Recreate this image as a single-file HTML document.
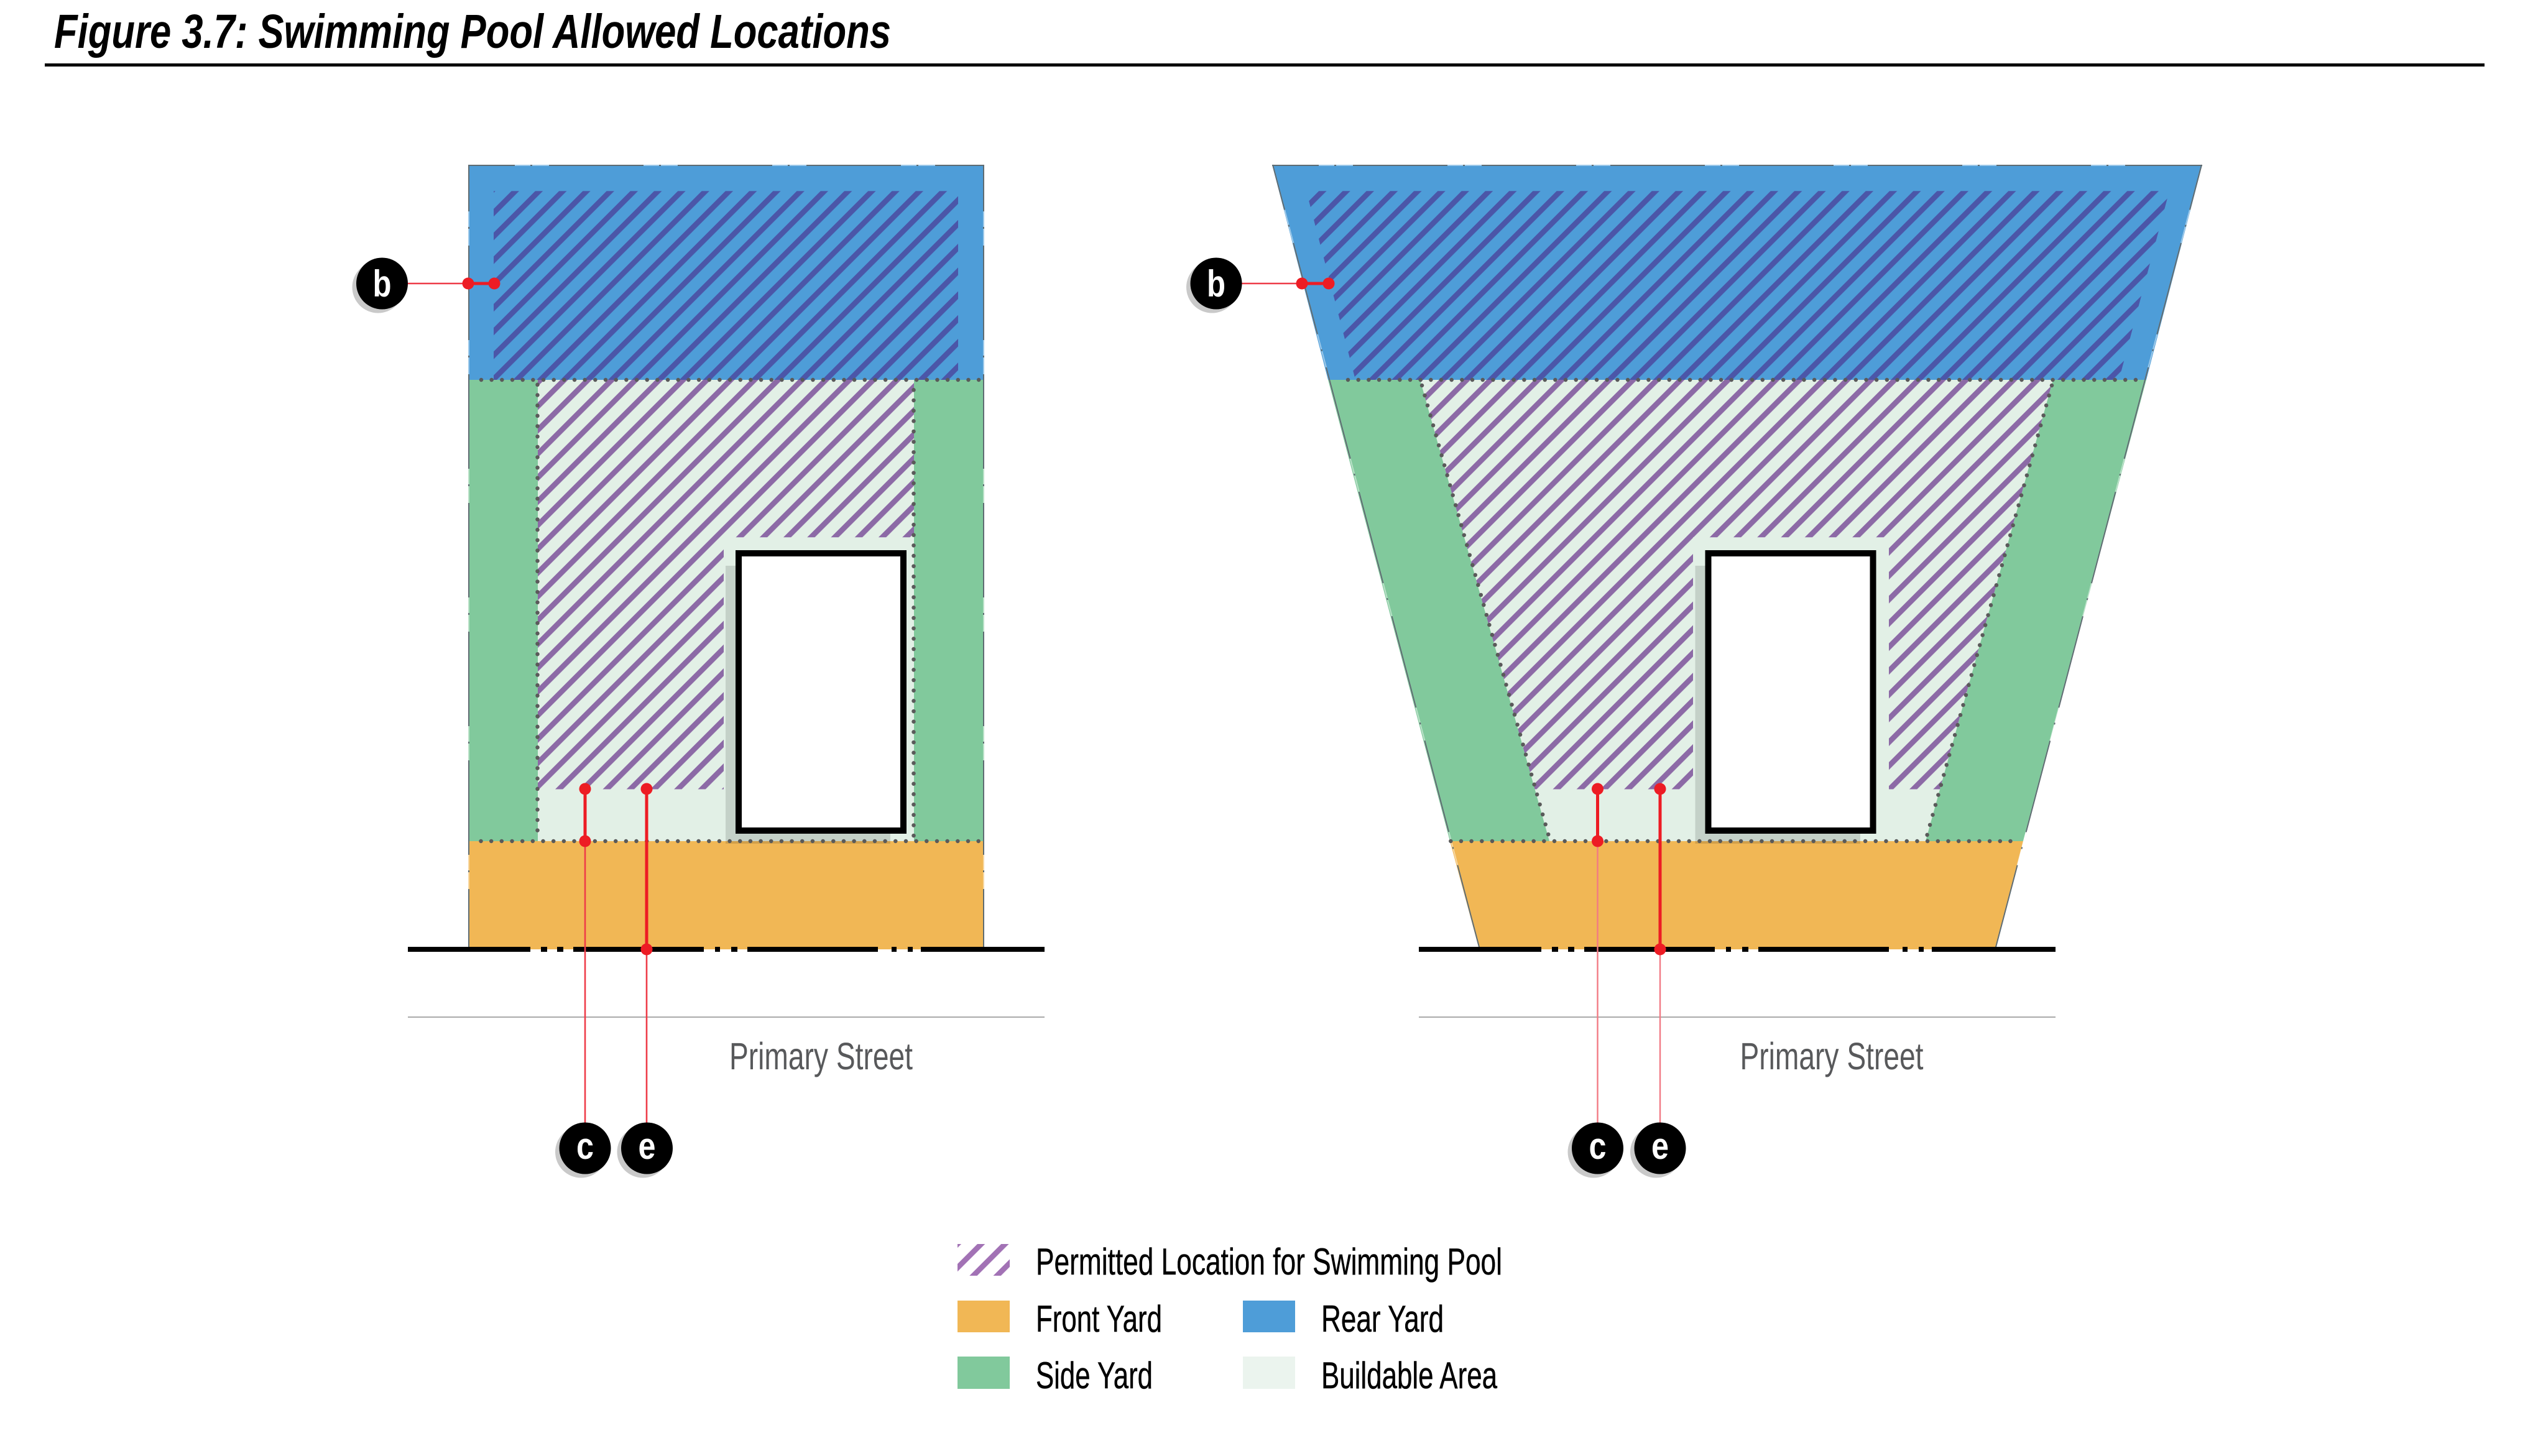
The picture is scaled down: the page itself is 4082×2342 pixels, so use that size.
<!DOCTYPE html>
<html lang="en">
<head>
<meta charset="utf-8">
<title>Figure 3.7: Swimming Pool Allowed Locations</title>
<style>
html,body{margin:0;padding:0;background:#fff;width:4082px;height:2342px;overflow:hidden}
svg{display:block}
text{font-family:"Liberation Sans",sans-serif}
.pale{fill:none;stroke:#fff;stroke-width:2;opacity:.45}
.edge{fill:none;stroke:#5f6c72;stroke-width:2;stroke-dasharray:152 25 3 27;stroke-dashoffset:77}
.dot{fill:none;stroke:#5a5a5a;stroke-width:6.5;stroke-linecap:round;stroke-dasharray:0 16.67}
.st{fill:#000}
.th{stroke:#ed1c24;stroke-width:5;fill:none}
.tn{stroke:#ee3c48;stroke-width:2.6;fill:none}
.tn2{stroke:#f27a84;stroke-width:2.4;fill:none}
.rd{fill:#ed1c24}
.lb{font-size:61px;fill:#58595b}
.lg{font-size:60px;fill:#000;stroke:#000;stroke-width:.5}
.bl{font-size:60px;font-weight:bold;fill:#fff;text-anchor:middle}
</style>
</head>
<body>
<svg xmlns="http://www.w3.org/2000/svg" width="4082" height="2342" viewBox="0 0 4082 2342">
<defs>
<pattern id="hb1" patternUnits="userSpaceOnUse" width="60" height="27.04" patternTransform="rotate(-45) translate(0,799)"><rect width="60" height="8.7" fill="#4b56a8"/></pattern>
<pattern id="hp1" patternUnits="userSpaceOnUse" width="60" height="27.04" patternTransform="rotate(-45) translate(0,799)"><rect width="60" height="8.7" fill="#8c6aa6"/></pattern>
<pattern id="hb2" patternUnits="userSpaceOnUse" width="60" height="27.04" patternTransform="rotate(-45) translate(0,1717.2)"><rect width="60" height="8.7" fill="#4b56a8"/></pattern>
<pattern id="hp2" patternUnits="userSpaceOnUse" width="60" height="27.04" patternTransform="rotate(-45) translate(0,1717.2)"><rect width="60" height="8.7" fill="#8c6aa6"/></pattern>
<pattern id="hl" patternUnits="userSpaceOnUse" width="60" height="27.04" patternTransform="rotate(-45) translate(0,2526.5)"><rect width="60" height="8.7" fill="#a272b5"/></pattern>
</defs>
<rect width="4082" height="2342" fill="#fff"/>

<!-- Title -->
<text x="87" y="77" font-size="77" font-weight="bold" font-style="italic" fill="#000" textLength="1346" lengthAdjust="spacingAndGlyphs">Figure 3.7: Swimming Pool Allowed Locations</text>
<rect x="72" y="102" width="3924" height="5" fill="#000"/>

<!-- LEFT DIAGRAM -->
<rect x="753" y="265" width="830" height="346" fill="#4e9dd8"/>
<rect x="753" y="611" width="830" height="742" fill="#81c99c"/>
<rect x="865" y="611" width="605" height="742" fill="#e2f0e6"/>
<rect x="753" y="1353" width="830" height="174" fill="#f1b755"/>
<rect x="794" y="307.3" width="747" height="303.7" fill="url(#hb1)"/>
<polygon points="865,611 1470,611 1470,864.3 1164,864.3 1164,1269.5 865,1269.5" fill="url(#hp1)"/>
<rect x="1167" y="910" width="265" height="447" fill="#000" opacity=".13"/>
<rect x="1188" y="890" width="265" height="446" fill="#fff" stroke="#000" stroke-width="10"/>
<path class="pale" d="M753 266H1583M754 265V1527M1582 265V1527"/>
<path class="edge" d="M753 266H1583"/>
<path class="edge" d="M754 265V1527"/>
<path class="edge" d="M1582 265V1527"/>
<path class="dot" d="M774 611H1583"/>
<path class="dot" d="M773.5 1353H1583"/>
<path class="dot" d="M864.5 618.8V1340"/>
<path class="dot" d="M1469.5 627.3V1345"/>
<g class="st">
<rect x="656" y="1523" width="197" height="8"/><rect x="870" y="1523" width="10" height="8"/><rect x="896" y="1523" width="10" height="8"/>
<rect x="922" y="1523" width="210" height="8"/><rect x="1150" y="1523" width="8" height="8"/><rect x="1176" y="1523" width="10" height="8"/>
<rect x="1202" y="1523" width="210" height="8"/><rect x="1434" y="1523" width="8" height="8"/><rect x="1460" y="1523" width="8" height="8"/>
<rect x="1481" y="1523" width="199" height="8"/>
</g>
<rect x="656" y="1635" width="1024" height="2" fill="#aaa"/>
<text class="lb" x="1173" y="1720" textLength="295" lengthAdjust="spacingAndGlyphs">Primary Street</text>
<!-- callouts left -->
<path class="tn" d="M656 456H753"/>
<path class="th" d="M753 456H795"/>
<circle class="rd" cx="753" cy="456" r="9.5"/><circle class="rd" cx="795" cy="456" r="9.5"/>
<path class="th" d="M941 1269V1353"/>
<path class="tn" d="M941 1353V1806"/>
<path class="th" d="M1040 1269V1527"/>
<path class="tn" d="M1040 1527V1806"/>
<circle class="rd" cx="941" cy="1269" r="9.5"/><circle class="rd" cx="941" cy="1353" r="9.5"/>
<circle class="rd" cx="1040" cy="1269" r="9.5"/><circle class="rd" cx="1040" cy="1527" r="9.5"/>
<circle cx="608" cy="462" r="41.5" fill="#c9c9c9"/><circle cx="614.5" cy="456" r="41.5" fill="#000"/>
<text class="bl" x="614.5" y="477" textLength="30" lengthAdjust="spacingAndGlyphs">b</text>
<circle cx="934.5" cy="1853" r="41.5" fill="#c9c9c9"/><circle cx="941" cy="1847" r="41.5" fill="#000"/>
<text class="bl" x="941" y="1864" textLength="28" lengthAdjust="spacingAndGlyphs">c</text>
<circle cx="1034" cy="1853" r="41.5" fill="#c9c9c9"/><circle cx="1040.5" cy="1847" r="41.5" fill="#000"/>
<text class="bl" x="1040.5" y="1864" textLength="28" lengthAdjust="spacingAndGlyphs">e</text>

<!-- RIGHT DIAGRAM -->
<polygon points="2046,265 3542,265 3452,611 2136,611" fill="#4e9dd8"/>
<polygon points="2136,611 3452,611 3254,1353 2332,1353" fill="#81c99c"/>
<polygon points="2284,611 3302,611 3097,1353 2492,1353" fill="#e2f0e6"/>
<polygon points="2332,1353 3254,1353 3210,1527 2379,1527" fill="#f1b755"/>
<polygon points="2101,307.3 3489,307.3 3408,611 2180,611" fill="url(#hb2)"/>
<polygon points="2284,611 3302,611 3232,864.3 3120,1269.5 3038,1269.5 3038,864.3 2723,864.3 2723,1269.5 2468.5,1269.5" fill="url(#hp2)"/>
<rect x="2726.5" y="910" width="265.5" height="447" fill="#000" opacity=".13"/>
<rect x="2747.5" y="890" width="265" height="446" fill="#fff" stroke="#000" stroke-width="10"/>
<path class="pale" d="M2046 266H3542M2047 265L2380 1527M3541 265L3209 1527"/>
<path class="edge" d="M2046 266H3542"/>
<path class="edge" d="M2047 265L2380 1527"/>
<path class="edge" d="M3541 265L3209 1527"/>
<path class="dot" d="M2168 611H3446"/>
<path class="dot" d="M2333.3 1353H3250"/>
<path class="dot" d="M2287 620L2491 1345"/>
<path class="dot" d="M3300 620L3099 1345"/>
<g class="st">
<rect x="2282" y="1523" width="197" height="8"/><rect x="2496" y="1523" width="10" height="8"/><rect x="2522" y="1523" width="10" height="8"/>
<rect x="2548" y="1523" width="210" height="8"/><rect x="2776" y="1523" width="8" height="8"/><rect x="2802" y="1523" width="10" height="8"/>
<rect x="2828" y="1523" width="210" height="8"/><rect x="3060" y="1523" width="8" height="8"/><rect x="3086" y="1523" width="8" height="8"/>
<rect x="3107" y="1523" width="199" height="8"/>
</g>
<rect x="2282" y="1635" width="1024" height="2" fill="#aaa"/>
<text class="lb" x="2798.5" y="1720" textLength="295" lengthAdjust="spacingAndGlyphs">Primary Street</text>
<!-- callouts right -->
<path class="tn" d="M1997 456H2094"/>
<path class="th" d="M2094 456H2137"/>
<circle class="rd" cx="2094" cy="456" r="9.5"/><circle class="rd" cx="2137" cy="456" r="9.5"/>
<path class="th" d="M2569.5 1269V1353"/>
<path class="tn2" d="M2569.5 1353V1806"/>
<path class="th" d="M2670 1269V1527"/>
<path class="tn2" d="M2670 1527V1806"/>
<circle class="rd" cx="2569.5" cy="1269" r="9.5"/><circle class="rd" cx="2569.5" cy="1353" r="9.5"/>
<circle class="rd" cx="2670" cy="1269" r="9.5"/><circle class="rd" cx="2670" cy="1527" r="9.5"/>
<circle cx="1949.5" cy="462" r="41.5" fill="#c9c9c9"/><circle cx="1956" cy="456" r="41.5" fill="#000"/>
<text class="bl" x="1956" y="477" textLength="30" lengthAdjust="spacingAndGlyphs">b</text>
<circle cx="2563" cy="1853" r="41.5" fill="#c9c9c9"/><circle cx="2569.5" cy="1847" r="41.5" fill="#000"/>
<text class="bl" x="2569.5" y="1864" textLength="28" lengthAdjust="spacingAndGlyphs">c</text>
<circle cx="2663.5" cy="1853" r="41.5" fill="#c9c9c9"/><circle cx="2670" cy="1847" r="41.5" fill="#000"/>
<text class="bl" x="2670" y="1864" textLength="28" lengthAdjust="spacingAndGlyphs">e</text>

<!-- LEGEND -->
<rect x="1540" y="2001" width="84" height="51" fill="url(#hl)"/>
<rect x="1540" y="2092" width="84" height="51" fill="#f1b755"/>
<rect x="1540" y="2182" width="84" height="52" fill="#81c99c"/>
<rect x="1999" y="2092" width="84" height="51" fill="#4e9dd8"/>
<rect x="1999" y="2182" width="84" height="52" fill="#ebf4ee"/>
<text class="lg" x="1666" y="2050" textLength="750" lengthAdjust="spacingAndGlyphs">Permitted Location for Swimming Pool</text>
<text class="lg" x="1666" y="2142" textLength="203" lengthAdjust="spacingAndGlyphs">Front Yard</text>
<text class="lg" x="1666" y="2233" textLength="188" lengthAdjust="spacingAndGlyphs">Side Yard</text>
<text class="lg" x="2125" y="2142" textLength="197" lengthAdjust="spacingAndGlyphs">Rear Yard</text>
<text class="lg" x="2125" y="2233" textLength="283" lengthAdjust="spacingAndGlyphs">Buildable Area</text>
</svg>
</body>
</html>
